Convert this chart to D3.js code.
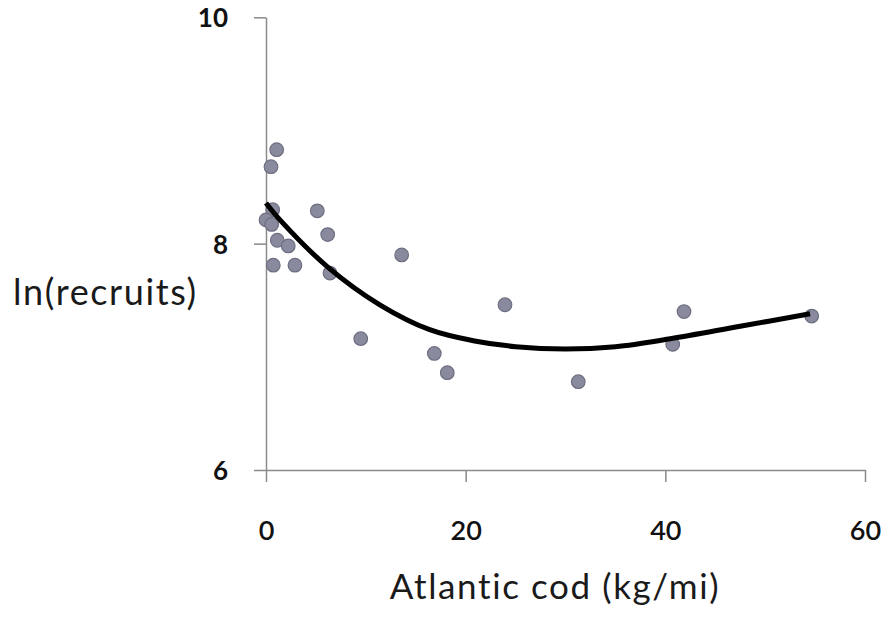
<!DOCTYPE html>
<html>
<head>
<meta charset="utf-8">
<script src="https://cdn.jsdelivr.net/npm/d3@7"></script>
<style>
  html, body { margin: 0; padding: 0; background: #fff; }
  svg { display: block; }
  .axis path, .axis line { stroke: #8a8a8a; stroke-width: 1.5; }
  .axis text {
    font-family: Lato, "Open Sans", sans-serif;
    fill: #111;
  }
  .title { font-family: Lato, "Open Sans", sans-serif; fill: #1a1a1a; letter-spacing: 1.6px; }
</style>
</head>
<body>
<div id="chart"></div>
<script>
// cod biomass (kg/mi) vs ln(recruits)
const codDensity = [1.07, 0.50, 0.67, 0.0, 0.57, 5.14, 1.13, 2.23, 6.18, 0.73, 2.90,
  6.41, 13.59, 9.49, 16.86, 18.16, 23.94, 31.28, 41.87, 40.74, 54.66];
const lnRecruits = [8.83, 8.68, 8.30, 8.21, 8.17, 8.29, 8.03, 7.98, 8.08, 7.81, 7.81,
  7.74, 7.90, 7.16, 7.03, 6.86, 7.46, 6.78, 7.40, 7.11, 7.36];

// fitted trend line
const trendX = [0, 1.4, 6.1, 11.4, 16.4, 20.9, 25.0, 30.0, 35.0, 40.5, 47.5, 54.5];
const trendY = [8.36, 8.21, 7.80, 7.46, 7.24, 7.14, 7.09, 7.07, 7.09, 7.16, 7.27, 7.38];

const xTicks = [0, 20, 40, 60];
const yTicks = [6, 8, 10];

function drawChart() {
  const width = 885;
  const height = 617;

  const svg = d3.select('#chart')
    .append('svg')
    .attr('width', width)
    .attr('height', height);

  const xScale = d3.scaleLinear().domain([0, 60]).range([266, 865]);
  const yScale = d3.scaleLinear().domain([6, 10]).range([470, 17.3]);

  const xAxis = d3.axisBottom(xScale)
    .tickValues(xTicks)
    .tickSize(12)
    .tickSizeOuter(0)
    .tickFormat(d3.format('d'));

  const yAxis = d3.axisLeft(yScale)
    .tickValues(yTicks)
    .tickSize(12)
    .tickSizeOuter(0)
    .tickFormat(d3.format('d'));

  const gx = svg.append('g')
    .attr('class', 'axis')
    .attr('transform', `translate(0, ${yScale(6)})`)
    .call(xAxis);

  gx.selectAll('text')
    .attr('y', 70)
    .attr('dy', 0)
    .style('font-size', '27px')
    .style('font-weight', 600);

  const gy = svg.append('g')
    .attr('class', 'axis')
    .attr('transform', `translate(${xScale(0)}, 0)`)
    .call(yAxis);

  gy.selectAll('text')
    .attr('x', -38)
    .attr('dy', 9.5)
    .style('font-size', '26px')
    .style('font-weight', 700);

  // axis titles
  svg.append('text')
    .attr('class', 'title')
    .attr('x', 13)
    .attr('y', 305)
    .style('font-size', '36px')
    .text('ln(recruits)');

  svg.append('text')
    .attr('class', 'title')
    .attr('x', 555)
    .attr('y', 599)
    .attr('text-anchor', 'middle')
    .style('font-size', '35px')
    .text('Atlantic cod (kg/mi)');

  // points
  const points = codDensity.map((d, i) => ({ x: d, y: lnRecruits[i] }));

  svg.append('g')
    .selectAll('circle')
    .data(points)
    .join('circle')
    .attr('cx', (d) => xScale(d.x))
    .attr('cy', (d) => yScale(d.y))
    .attr('r', 6.8)
    .style('fill', '#8a8a9e')
    .style('stroke', '#6e6e82')
    .style('stroke-width', 1.2);

  // trend line
  const trend = trendX.map((d, i) => [d, trendY[i]]);
  const line = d3.line()
    .x((d) => xScale(d[0]))
    .y((d) => yScale(d[1]))
    .curve(d3.curveCatmullRom.alpha(0.5));

  svg.append('path')
    .datum(trend)
    .attr('d', line)
    .style('fill', 'none')
    .style('stroke', '#000')
    .style('stroke-width', 5)
    .style('stroke-linecap', 'butt');
}

drawChart();
</script>
</body>
</html>
